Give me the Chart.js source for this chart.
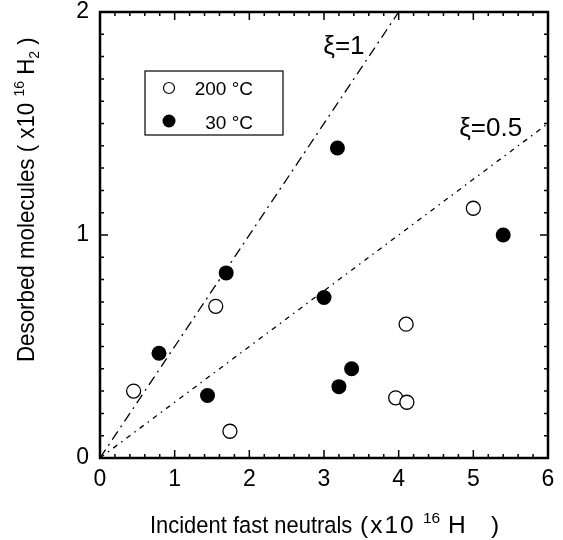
<!DOCTYPE html>
<html>
<head>
<meta charset="utf-8">
<script src="https://cdn.jsdelivr.net/npm/chart.js@4/dist/chart.umd.min.js"></script>
<style>
  html, body { margin: 0; padding: 0; background: #fff; }
  #wrap { width: 563px; height: 540px; }
</style>
</head>
<body>
<div id="wrap"><canvas id="c" width="563" height="540"></canvas></div>
<script>
// 200 °C (open circles)
const hotX = [0.45, 1.55, 1.74, 3.96, 4.11, 4.10, 5.00];
const hotY = [0.30, 0.68, 0.12, 0.27, 0.25, 0.60, 1.12];
// 30 °C (filled circles)
const coldX = [0.79, 1.44, 1.69, 3.00, 3.18, 3.20, 3.37, 5.40];
const coldY = [0.47, 0.28, 0.83, 0.72, 1.39, 0.32, 0.40, 1.00];
// reference lines, xi = 1 and xi = 0.5
const xi1X = [0, 4];
const xi1Y = [0, 2];
const xi05X = [0, 6];
const xi05Y = [0, 1.5];
const xTicks = [0, 1, 2, 3, 4, 5, 6];
const yTicks = [0, 1, 2];
const legendLabels = ['200 °C', '30 °C'];

const FONT = '"Liberation Sans", Arial, Helvetica, sans-serif';

function pts(xs, ys) {
  return xs.map((x, i) => ({x: x, y: ys[i]}));
}

// writes text pieces one after another; sup/sub pieces are smaller and shifted
function drawPieces(ctx, pieces, size, small) {
  let x = 0;
  pieces.forEach(p => {
    const sz = p.shift ? small : size;
    ctx.font = sz + 'px ' + FONT;
    ctx.fillText(p.t, x, p.shift || 0);
    x += ctx.measureText(p.t).width;
  });
}

function txt(ctx, s, x, y, size, spacing) {
  ctx.font = size + 'px ' + FONT;
  ctx.letterSpacing = (spacing || 0) + 'px';
  ctx.fillText(s, x, y);
  ctx.letterSpacing = '0px';
}

const framePlugin = {
  id: 'frame',
  afterDatasetsDraw(chart) {
    const ctx = chart.ctx;
    const a = chart.chartArea;
    const xs = chart.scales.x, ys = chart.scales.y;
    ctx.save();
    ctx.strokeStyle = '#000';
    ctx.fillStyle = '#000';

    // inward ticks on all four sides
    ctx.lineWidth = 1.5;
    ctx.beginPath();
    for (let i = 0; i <= 30; i++) {
      const px = xs.getPixelForValue(i * 0.2);
      const len = (i % 5 === 0) ? 8 : 4;
      ctx.moveTo(px, a.bottom); ctx.lineTo(px, a.bottom - len);
      ctx.moveTo(px, a.top); ctx.lineTo(px, a.top + len);
    }
    for (let i = 0; i <= 20; i++) {
      const py = ys.getPixelForValue(i * 0.1);
      const len = (i % 10 === 0) ? 8 : 4;
      ctx.moveTo(a.left, py); ctx.lineTo(a.left + len, py);
      ctx.moveTo(a.right, py); ctx.lineTo(a.right - len, py);
    }
    ctx.stroke();

    // frame
    ctx.lineWidth = 2.5;
    ctx.strokeRect(a.left, a.top, a.right - a.left, a.bottom - a.top);

    // xi labels
    ctx.font = '26px ' + FONT;
    ctx.textBaseline = 'alphabetic';
    ctx.textAlign = 'left';
    ctx.fillText('ξ=1', xs.getPixelForValue(2.99), ys.getPixelForValue(1.81));
    ctx.fillText('ξ=0.5', xs.getPixelForValue(4.81), ys.getPixelForValue(1.445));

    // legend box
    const bx = a.left + 45, by = a.top + 59, bw = 138, bh = 64;
    ctx.lineWidth = 1.2;
    ctx.strokeRect(bx, by, bw, bh);
    ctx.beginPath();
    ctx.arc(bx + 24, by + 17, 5.5, 0, Math.PI * 2);
    ctx.fillStyle = '#fff';
    ctx.fill();
    ctx.stroke();
    ctx.fillStyle = '#000';
    ctx.beginPath();
    ctx.arc(bx + 24, by + 50, 6.5, 0, Math.PI * 2);
    ctx.fill();
    ctx.font = '19px ' + FONT;
    ctx.textAlign = 'right';
    ctx.fillText(legendLabels[0], bx + 108, by + 24);
    ctx.fillText(legendLabels[1], bx + 108, by + 58);
    ctx.textAlign = 'left';

    // x axis title, pieces spaced like the original lettering
    const base = 533;
    ctx.save();
    ctx.translate(150, base);
    ctx.scale(0.895, 1);
    txt(ctx, 'Incident fast neutrals', 0, 0, 24.5);
    ctx.restore();
    txt(ctx, '(x10', 360, base, 24.5, 2);
    txt(ctx, '16', 423, base - 10, 15.5);
    txt(ctx, 'H', 448, base, 24.5);
    txt(ctx, ')', 491, base, 24.5);

    // y axis title, rotated
    ctx.save();
    ctx.translate(34, 362);
    ctx.rotate(-Math.PI / 2);
    ctx.scale(0.93, 1);
    drawPieces(ctx, [
      {t: 'Desorbed molecules ( x10 '},
      {t: '16', shift: -10},
      {t: ' H'},
      {t: '2', shift: 5},
      {t: ' )'}
    ], 24, 15);
    ctx.restore();

    ctx.restore();
  }
};

new Chart(document.getElementById('c'), {
  type: 'scatter',
  data: {
    datasets: [
      {
        label: 'xi=1',
        data: pts(xi1X, xi1Y),
        showLine: true,
        borderColor: '#000',
        borderWidth: 1.3,
        borderDash: [10, 5, 2, 5],
        pointRadius: 0,
        fill: false
      },
      {
        label: 'xi=0.5',
        data: pts(xi05X, xi05Y),
        showLine: true,
        borderColor: '#000',
        borderWidth: 1.3,
        borderDash: [5, 5, 1.5, 5],
        pointRadius: 0,
        fill: false
      },
      {
        label: legendLabels[0],
        data: pts(hotX, hotY),
        pointStyle: 'circle',
        pointRadius: 7,
        backgroundColor: '#fff',
        borderColor: '#000',
        borderWidth: 1.3
      },
      {
        label: legendLabels[1],
        data: pts(coldX, coldY),
        pointStyle: 'circle',
        pointRadius: 7.5,
        backgroundColor: '#000',
        borderColor: '#000',
        borderWidth: 0
      }
    ]
  },
  options: {
    responsive: false,
    animation: false,
    layout: {padding: {top: 12, right: 15, left: 0, bottom: 0}},
    plugins: {legend: {display: false}, tooltip: {enabled: false}},
    scales: {
      x: {
        type: 'linear',
        min: 0, max: 6,
        afterFit: s => { s.height = 82; s.paddingLeft = 0; s.paddingRight = 0; },
        afterBuildTicks: s => { s.ticks = xTicks.map(v => ({value: v})); },
        grid: {display: false, drawTicks: false},
        border: {display: false},
        ticks: {
          padding: 8,
          color: '#000',
          font: {family: FONT, size: 23},
          maxRotation: 0
        }
      },
      y: {
        type: 'linear',
        min: 0, max: 2,
        afterFit: s => { s.width = 100; s.paddingTop = 0; s.paddingBottom = 0; },
        afterBuildTicks: s => { s.ticks = yTicks.map(v => ({value: v})); },
        grid: {display: false, drawTicks: false},
        border: {display: false},
        ticks: {
          padding: 11,
          color: '#000',
          font: {family: FONT, size: 23}
        }
      }
    }
  },
  plugins: [framePlugin]
});
</script>
</body>
</html>
